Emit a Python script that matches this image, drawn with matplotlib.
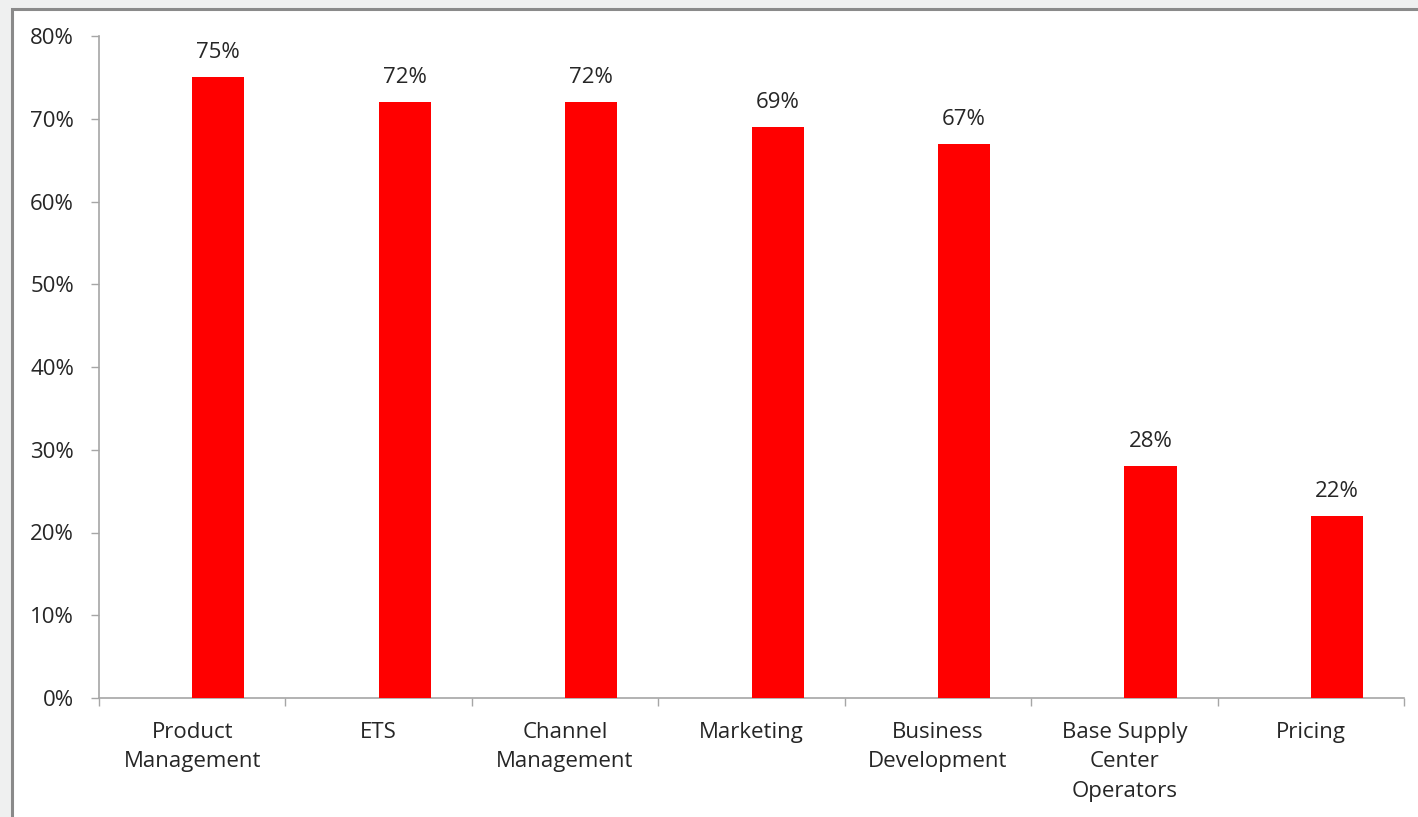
import matplotlib
matplotlib.use("Agg")
import matplotlib.pyplot as plt
from matplotlib.patches import Rectangle
from matplotlib.ticker import FuncFormatter, FixedLocator, MultipleLocator

categories = ["Product\nManagement", "ETS", "Channel\nManagement", "Marketing",
              "Business\nDevelopment", "Base Supply\nCenter\nOperators", "Pricing"]
values = [75, 72, 72, 69, 67, 28, 22]
value_labels = ["75%", "72%", "72%", "69%", "67%", "28%", "22%"]

plt.rcParams["font.family"] = ["Open Sans", "DejaVu Sans"]
TEXT = "#262626"
AXIS = "#a6a6a6"
FS = 16

fig = plt.figure(figsize=(14.18, 8.17), dpi=100, facecolor="#eff0f0")

# white panel with a grey frame on its top and left edges
W, H = 1418, 817
panel = Rectangle((12 / W, -0.01), 1.02, 1 - 9 / H + 0.01, transform=fig.transFigure,
                  facecolor="white", edgecolor="#8a8a8a", linewidth=2.2, zorder=-10)
fig.patches.append(panel)

ax = fig.add_axes([99 / W, (H - 698) / H, (1404 - 99) / W, (698 - 36) / H])
ax.set_facecolor("none")
ax.set_zorder(5)

x = list(range(len(categories)))
bar_w = 0.28
bars = ax.bar([i + bar_w / 2 for i in x], values, width=bar_w, color="#ff0000",
              linewidth=0, zorder=3)

for i, (v, lab) in enumerate(zip(values, value_labels)):
    ax.annotate(lab, (i + bar_w / 2, v), xytext=(0, 10), textcoords="offset points",
                ha="center", va="bottom", fontsize=FS, color=TEXT)

ax.set_xlim(-0.5, len(categories) - 0.5)
ax.set_ylim(0, 80)
ax.yaxis.set_major_locator(MultipleLocator(10))
ax.yaxis.set_major_formatter(FuncFormatter(lambda v, p: f"{v:.0f}%"))

ax.set_xticks(x)
ax.set_xticklabels(categories, fontsize=FS, color=TEXT, linespacing=1.55)
ax.xaxis.set_minor_locator(FixedLocator([i - 0.5 for i in range(len(categories) + 1)]))
ax.tick_params(axis="x", which="major", length=0, pad=17)
ax.tick_params(axis="x", which="minor", length=6, width=1, color=AXIS)
ax.tick_params(axis="y", length=6, width=1, color=AXIS, pad=12, labelsize=FS,
               labelcolor=TEXT)

for s in ["top", "right"]:
    ax.spines[s].set_visible(False)
for s in ["left", "bottom"]:
    ax.spines[s].set_color(AXIS)
    ax.spines[s].set_linewidth(1.2)

fig.savefig("out.png", dpi=100, facecolor=fig.get_facecolor())
